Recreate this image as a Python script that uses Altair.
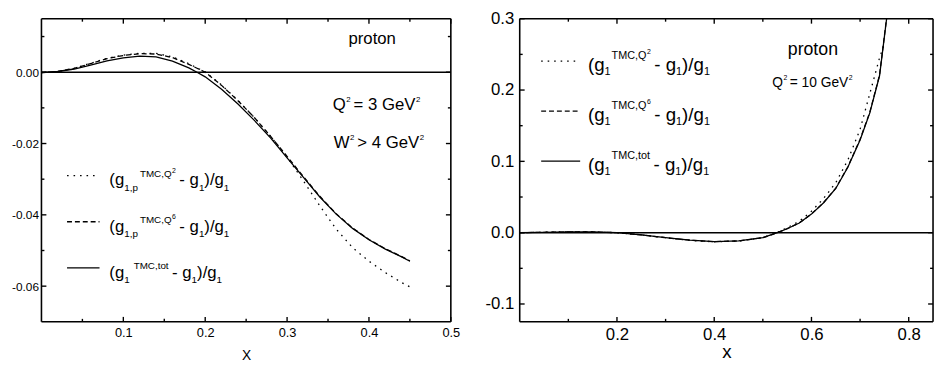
import altair as alt
import pandas as pd

FONT = "Liberation Sans"

# ---------------- data: left panel (Q^2 = 3 GeV^2) ----------------
L_X = [0.0, 0.02, 0.04, 0.06, 0.08, 0.10, 0.12, 0.14, 0.16, 0.18, 0.19, 0.20, 0.22,
       0.24, 0.26, 0.28, 0.30, 0.32, 0.34, 0.36, 0.38, 0.40, 0.42, 0.44, 0.45]
L_TOT = [-0.0001, 0.0002, 0.0009, 0.0020, 0.0032, 0.0040, 0.0045, 0.0043, 0.0031, 0.0012,
         0.0, -0.0013, -0.0048, -0.0089, -0.0135, -0.0185, -0.0240, -0.0295, -0.0350,
         -0.0398, -0.0438, -0.0470, -0.0496, -0.0518, -0.0530]
L_Q6 = [-0.0001, 0.0002, 0.0011, 0.0024, 0.0038, 0.0047, 0.0052, 0.0051, 0.0041, 0.0022,
        0.0011, 0.0, -0.0037, -0.0080, -0.0127, -0.0180, -0.0236, -0.0293, -0.0348,
        -0.0397, -0.0437, -0.0469, -0.0495, -0.0517, -0.0529]
L_Q2 = [-0.0001, 0.0002, 0.0011, 0.0025, 0.0039, 0.0048, 0.0053, 0.0053, 0.0043, 0.0024,
        0.0012, 0.0001, -0.0036, -0.0079, -0.0127, -0.0180, -0.0238, -0.0305, -0.0375,
        -0.0440, -0.0492, -0.0530, -0.0562, -0.0590, -0.0602]

# ---------------- data: right panel (Q^2 = 10 GeV^2) ----------------
R_X = [0.0, 0.05, 0.10, 0.15, 0.20, 0.25, 0.30, 0.35, 0.40, 0.45, 0.50, 0.53, 0.55,
       0.575, 0.60, 0.625, 0.65, 0.675, 0.70, 0.72, 0.74, 0.75, 0.76]
R_TOT = [0.0, 0.0005, 0.0010, 0.0010, 0.0, -0.0030, -0.0070, -0.0105, -0.0125, -0.0115,
         -0.0070, 0.0, 0.0055, 0.0135, 0.0260, 0.0420, 0.0620, 0.0920, 0.1300, 0.1680,
         0.2200, 0.2750, 0.3300]
R_Q6 = [0.0, 0.0005, 0.0010, 0.0010, 0.0, -0.0030, -0.0071, -0.0106, -0.0126, -0.0116,
        -0.0071, 0.0, 0.0056, 0.0137, 0.0262, 0.0423, 0.0625, 0.0925, 0.1310, 0.1690,
        0.2210, 0.2760, 0.3310]
R_X_Q2 = [0.0, 0.05, 0.10, 0.15, 0.20, 0.25, 0.30, 0.35, 0.40, 0.45, 0.50, 0.53, 0.55,
          0.575, 0.60, 0.625, 0.65, 0.675, 0.70, 0.72, 0.74, 0.75]
R_Q2 = [0.0, 0.0006, 0.0012, 0.0010, 0.0, -0.0030, -0.0072, -0.0108, -0.0128, -0.0117,
        -0.0070, 0.0002, 0.0070, 0.0160, 0.0300, 0.0480, 0.0700, 0.1020, 0.1450, 0.1950,
        0.2450, 0.2650]

# tick values
L_XMAJ = [0.1, 0.2, 0.3, 0.4, 0.5]
L_XMIN = [0.05, 0.15, 0.25, 0.35, 0.45]
L_YMAJ = [0.0, -0.02, -0.04, -0.06]
L_YMIN = [0.01, -0.01, -0.03, -0.05]
R_XMAJ = [0.2, 0.4, 0.6, 0.8]
R_XMIN = [0.1, 0.3, 0.5, 0.7]
R_YMAJ = [0.3, 0.2, 0.1, 0.0, -0.1]
R_YMIN = [0.25, 0.15, 0.05, -0.05]

ARIAL = {'(': 333, ')': 333, 'g': 556, '1': 556, ',': 278, 'p': 556, 'T': 611, 'M': 833,
         'C': 722, 'Q': 778, '2': 556, '6': 556, 't': 278, 'o': 556, ' ': 278, '-': 333,
         '/': 278, '=': 584, '3': 556, '0': 556, 'G': 778, 'e': 556, 'V': 667, 'W': 944,
         '>': 584, '4': 556, 'r': 333, 'n': 556}

ONE = pd.DataFrame({"a": [0]})

W1, W2, H = 416, 420, 308
SY = H / 315.0
INK = "#000000"


def tw(s, size):
    return sum(ARIAL.get(c, 556) for c in s) * size / 1000.0


def rich(pieces, x0, y0):
    layers = []
    x = x0
    for txt, size, dy, gap in pieces:
        x += gap
        layers.append(
            alt.Chart(ONE).mark_text(text=txt, fontSize=size, align="left",
                                     baseline="alphabetic", font=FONT, color=INK)
            .encode(x=alt.value(x), y=alt.value(y0 + dy))
        )
        x += tw(txt, size)
    return layers


def legend_pieces(sup, sub_first, main, small, tiny, sub_dy, sup_dy, tiny_dy, sup_gap):
    p = [("(g", main, 0, 0), (sub_first, small, sub_dy, 0), (sup[0], small, sup_dy, sup_gap)]
    if len(sup) > 1:
        p.append((sup[1], tiny, tiny_dy, 0.5))
    p += [("- g", main, 0, 3.5), ("1", small, sub_dy, 0), (")/g", main, 0, 0), ("1", small, sub_dy, 0)]
    return p


def edge(W, x1, x2, y1, y2):
    return (alt.Chart(ONE).mark_rule(color=INK, strokeWidth=1.6)
            .encode(x=alt.value(x1), x2=alt.value(x2), y=alt.value(y1), y2=alt.value(y2)))


def panel(W, xdom, ydom, xaxis, yaxis, curves, xmaj, xmin, ymaj, ymin, extra):
    xs = alt.Scale(domain=xdom, nice=False, zero=False)
    ys = alt.Scale(domain=ydom, nice=False, zero=False)
    X = alt.X("x:Q", scale=xs, axis=xaxis)
    Y = alt.Y("y:Q", scale=ys, axis=yaxis)
    layers = []
    for xv, yv, dash in curves:
        df = pd.DataFrame({"x": xv, "y": yv})
        kw = dict(color=INK, strokeWidth=1.3, clip=True)
        if dash:
            kw["strokeDash"] = dash
        layers.append(alt.Chart(df).mark_line(**kw).encode(x=X, y=Y))
    layers.append(alt.Chart(pd.DataFrame({"y": [0.0]}))
                  .mark_rule(color=INK, strokeWidth=1.6).encode(y=Y))
    for vals, ln in ((xmaj, 5), (xmin, 3)):
        d = pd.DataFrame({"x": vals})
        layers.append(alt.Chart(d).mark_rule(color=INK, strokeWidth=1.4)
                      .encode(x=X, y=alt.value(H), y2=alt.value(H - ln)))
        layers.append(alt.Chart(d).mark_rule(color=INK, strokeWidth=1.4)
                      .encode(x=X, y=alt.value(0), y2=alt.value(ln)))
    for vals, ln in ((ymaj, 5), (ymin, 3)):
        d = pd.DataFrame({"y": vals})
        layers.append(alt.Chart(d).mark_rule(color=INK, strokeWidth=1.4)
                      .encode(y=Y, x=alt.value(0), x2=alt.value(ln)))
        layers.append(alt.Chart(d).mark_rule(color=INK, strokeWidth=1.4)
                      .encode(y=Y, x=alt.value(W), x2=alt.value(W - ln)))
    # plot frame: four edges
    layers += [edge(W, 0, W, 0, 0), edge(W, 0, W, H, H), edge(W, 0, 0, 0, H), edge(W, W, W, 0, H)]
    layers += extra
    return alt.layer(*layers).properties(width=W, height=H)


def ax(values, expr, size, pad, title=None, tsize=14, tpad=0):
    kw = dict(values=values, labelExpr=expr, ticks=False, domain=False, grid=False,
              labelFont=FONT, labelFontSize=size, labelColor=INK, labelPadding=pad,
              labelFlush=False, labelOverlap=False)
    if title is not None:
        kw.update(title=title, titleFont=FONT, titleFontSize=tsize, titleFontWeight="normal",
                  titleColor=INK, titlePadding=tpad)
    else:
        kw.update(title=None)
    return alt.Axis(**kw)


NEG2 = "datum.value < 0 ? '-' + format(-datum.value, '.2f') : format(datum.value, '.2f')"
NEG1 = "datum.value < 0 ? '-' + format(-datum.value, '.1f') : format(datum.value, '.1f')"
DOT = [1.6, 5]
DASH = [5, 3]

# ---------------- left panel extras ----------------
lx = lambda v: v * W1 / 416.0
l_extra = []
for i, (dash, sup, sub) in enumerate([(DOT, ("TMC,Q", "2"), "1,p"),
                                       (DASH, ("TMC,Q", "6"), "1,p"),
                                       (None, ("TMC,tot",), "1")]):
    ly = (163 + 48 * i) * SY
    kw = dict(color=INK, strokeWidth=1.3)
    if dash:
        kw["strokeDash"] = dash
    l_extra.append(alt.Chart(ONE).mark_rule(**kw)
                   .encode(x=alt.value(lx(26)), x2=alt.value(lx(59)), y=alt.value(ly)))
    l_extra += rich(legend_pieces(sup, sub, 17, 10, 7, 5.5, -8.5, -13, 2 if len(sup) > 1 else 4),
                    lx(69), ly + 10)
l_extra += rich([("proton", 17, 0, 0)], lx(312), 26 * SY)
l_extra += rich([("Q", 17, 0, 0), ("2", 8, -8, 0.5), ("= 3 GeV", 17, 0, 3), ("2", 8, -8, 0.5)],
                lx(296), 95 * SY)
l_extra += rich([("W", 17, 0, 0), ("2", 8, -8, 0.5), ("> 4 GeV", 17, 0, 3), ("2", 8, -8, 0.5)],
                lx(297), 134 * SY)

left = panel(
    W1, [0, 0.5], [-0.07, 0.015],
    ax(L_XMAJ, "format(datum.value, '.1f')", 13, 5, "X", 14, 9),
    ax(L_YMAJ, NEG2, 12, 3),
    [(L_X, L_Q2, DOT), (L_X, L_Q6, DASH), (L_X, L_TOT, None)],
    L_XMAJ, L_XMIN, L_YMAJ, L_YMIN, l_extra)

# ---------------- right panel extras ----------------
rx = lambda v: v * W2 / 424.0
r_extra = []
for i, (dash, sup) in enumerate([(DOT, ("TMC,Q", "2")), (DASH, ("TMC,Q", "6")), (None, ("TMC,tot",))]):
    ly = (44 + 52 * i) * SY
    kw = dict(color=INK, strokeWidth=1.3)
    if dash:
        kw["strokeDash"] = dash
    r_extra.append(alt.Chart(ONE).mark_rule(**kw)
                   .encode(x=alt.value(rx(22)), x2=alt.value(rx(62)), y=alt.value(ly)))
    r_extra += rich(legend_pieces(sup, "1", 19, 11, 7, 4, -12, -17, 1), rx(70), ly + 10)
r_extra += rich([("proton", 18, 0, 0)], rx(275), 38 * SY)
r_extra += rich([("Q", 14, 0, 0), ("2", 7, -7, 0.5), ("= 10 GeV", 14, 0, 2.5), ("2", 7, -7, 0.5)],
                rx(259), 71 * SY)

right = panel(
    W2, [0, 0.85], [-0.125, 0.3],
    ax(R_XMAJ, "format(datum.value, '.1f')", 17, 5, "x", 19, 0),
    ax(R_YMAJ, NEG1, 17, 6),
    [(R_X_Q2, R_Q2, DOT), (R_X, R_Q6, DASH), (R_X, R_TOT, None)],
    R_XMAJ, R_XMIN, R_YMAJ, R_YMIN, r_extra)

chart = (
    alt.hconcat(left, right, spacing=24)
    .properties(padding={"left": 3, "top": -2, "right": 0, "bottom": 0},
                background="white")
    .configure_view(stroke="transparent")
)

chart.save("out.html", embed_options={"renderer": "svg", "actions": False})
